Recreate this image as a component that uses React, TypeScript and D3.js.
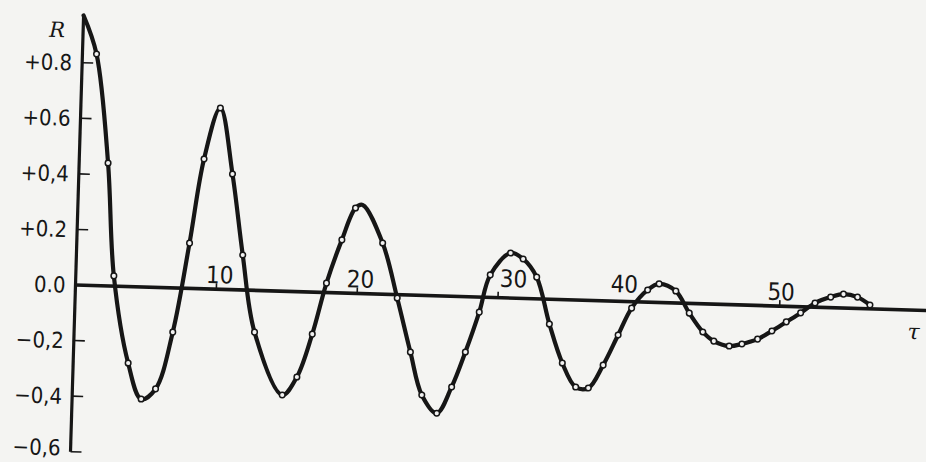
import React from "react";
import * as d3 from "d3";

// Sample points (circles): lag tau and correlation R
const TAU = [1.0, 2.05, 2.7, 3.9, 4.9, 5.9, 7.0, 8.0, 8.85, 9.9, 10.9, 11.8, 12.8, 14.9, 15.9, 16.9, 17.8, 18.8, 19.7, 21.7, 22.85, 23.9, 24.8, 25.9, 26.9, 27.8, 28.7, 29.4, 30.8, 31.7, 32.7, 33.7, 34.7, 35.7, 36.6, 37.6, 38.6, 39.5, 40.6, 41.4, 42.6, 43.6, 44.6, 45.4, 46.5, 47.4, 48.5, 49.5, 50.5, 51.5, 52.5, 53.6, 54.5, 55.5, 56.4];
const R = [0.833, 0.442, 0.037, -0.275, -0.403, -0.365, -0.159, 0.163, 0.467, 0.652, 0.416, 0.126, -0.150, -0.373, -0.307, -0.151, 0.034, 0.191, 0.307, 0.184, -0.012, -0.205, -0.358, -0.422, -0.326, -0.199, -0.054, 0.081, 0.162, 0.142, 0.078, -0.089, -0.228, -0.313, -0.315, -0.231, -0.121, -0.023, 0.044, 0.067, 0.043, -0.035, -0.101, -0.133, -0.149, -0.140, -0.121, -0.090, -0.056, -0.022, 0.015, 0.038, 0.050, 0.041, 0.014];

// Extra vertices of the drawn curve (no circle drawn there)
const CURVE_EXTRA_TAU = [0, 20.2];
const CURVE_EXTRA_R = [0.97, 0.319];

const X_TICKS = [10, 20, 30, 40, 50];
const Y_TICKS = [0.8, 0.6, 0.4, 0.2, 0.0, -0.2, -0.4, -0.6];
const Y_TICK_LABELS = ["+0.8", "+0.6", "+0,4", "+0.2", "0.0", "\u22120,2", "\u22120,4", "\u22120,6"];

// hand-lettered label nudges (px) for the x-axis numbers
const X_LABEL_DX: Record<number, number> = { 10: 3, 20: 3, 30: 15, 40: -15, 50: 1 };
const X_LABEL_DY: Record<number, number> = { 10: -6, 20: -6, 30: -11, 40: -9, 50: -6 };

const W = 926;
const H = 462;
const INK = "#161616";
const BG = "#f4f4f2";
const NUM_FONT = "'DejaVu Sans Condensed', 'DejaVu Sans', sans-serif";

export default function App() {
  const x = d3.scaleLinear().domain([0, 60]).range([0, 845.4]);
  const y = d3.scaleLinear().domain([-0.6, 0.8]).range([166.8, -222.4]);

  const circles = TAU.map((t, i) => ({ t, r: R[i] }));
  const curvePts = circles
    .concat(CURVE_EXTRA_TAU.map((t, i) => ({ t, r: CURVE_EXTRA_R[i] })))
    .sort((a, b) => a.t - b.t);

  const line = d3
    .line<{ t: number; r: number }>()
    .x((d) => x(d.t))
    .y((d) => y(d.r))
    .curve(d3.curveCatmullRom.alpha(0.5));

  return (
    <svg
      width={W}
      height={H}
      viewBox={`0 0 ${W} ${H}`}
      style={{ position: "absolute", left: 0, top: 0, display: "block" }}
    >
      <rect x={0} y={0} width={W} height={H} fill={BG} />
      <g transform="translate(75.5,285) rotate(1.72)">
        {/* y axis */}
        <line x1={0} x2={0} y1={y(-0.6)} y2={y(0.97)} stroke={INK} strokeWidth={3.2} />
        {Y_TICKS.map((v, i) => (
          <g key={"yt" + i}>
            <line x1={0} x2={11} y1={y(v)} y2={y(v)} stroke={INK} strokeWidth={1.6} />
            <text
              x={-10}
              y={y(v) - (v < -0.5 ? 4 : 0)}
              dy="0.36em"
              textAnchor="end"
              fontFamily={NUM_FONT}
              fontSize={22}
              fill={INK}
            >
              {Y_TICK_LABELS[i]}
            </text>
          </g>
        ))}
        <text
          x={-26}
          y={y(0.89)}
          fontFamily="'DejaVu Serif', serif"
          fontStyle="italic"
          fontSize={21}
          textAnchor="middle"
          fill={INK}
        >
          R
        </text>

        {/* x axis */}
        <line x1={0} x2={x(62)} y1={y(0)} y2={y(0)} stroke={INK} strokeWidth={3.6} />
        {X_TICKS.map((t) => (
          <g key={"xt" + t}>
            <line x1={x(t)} x2={x(t)} y1={y(0)} y2={y(0) - 6} stroke={INK} strokeWidth={1.6} />
            <text
              x={x(t) + X_LABEL_DX[t]}
              y={y(0) + X_LABEL_DY[t]}
              textAnchor="middle"
              fontFamily={NUM_FONT}
              fontSize={24}
              fill={INK}
            >
              {t}
            </text>
          </g>
        ))}
        <text
          x={x(59.55)}
          y={y(0) + 29}
          fontFamily="'DejaVu Serif', serif"
          fontStyle="italic"
          fontSize={22}
          textAnchor="middle"
          fill={INK}
        >
          τ
        </text>

        {/* curve */}
        <path d={line(curvePts) || ""} fill="none" stroke={INK} strokeWidth={4.2} strokeLinejoin="round" strokeLinecap="round" />
        {circles.map((d, i) => (
          <circle key={"c" + i} cx={x(d.t)} cy={y(d.r)} r={2.8} fill="#f2f2f2" stroke={INK} strokeWidth={1.5} />
        ))}
      </g>
    </svg>
  );
}
